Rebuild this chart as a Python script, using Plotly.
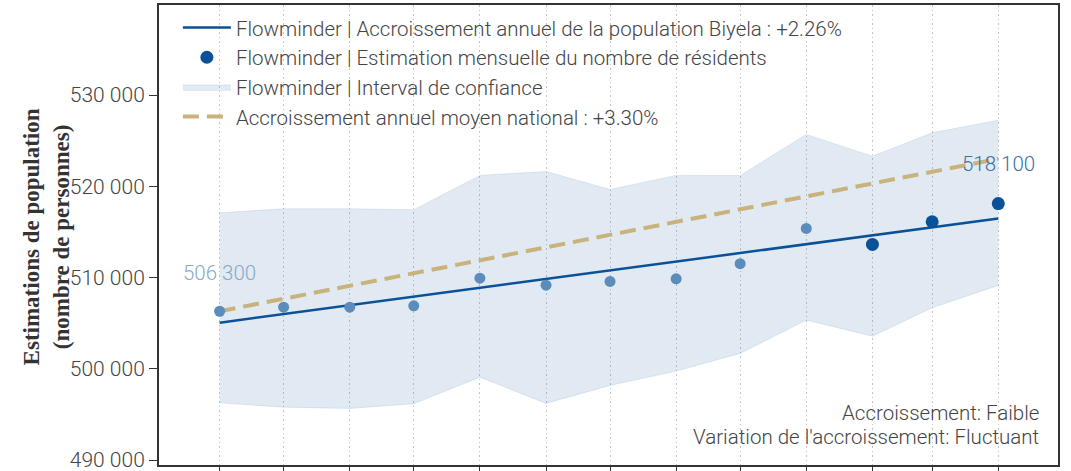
import plotly.graph_objects as go

# monthly estimates, Biyela
months = ["2022-04-01", "2022-05-01", "2022-06-01", "2022-07-01", "2022-08-01",
          "2022-09-01", "2022-10-01", "2022-11-01", "2022-12-01", "2023-01-01",
          "2023-02-01", "2023-03-01", "2023-04-01"]
estimates = [506300, 506750, 506750, 506900, 509930, 509160, 509570,
             509860, 511510, 515380, 513620, 516110, 518100]
ci_upper = [517100, 517530, 517530, 517430, 521190, 521620, 519650,
            521190, 521180, 525680, 523300, 525860, 527240]
ci_lower = [496270, 495790, 495650, 496160, 499080, 496200, 498170,
            499740, 501680, 505330, 503570, 506680, 509130]
n_recent = 3  # last months drawn darker

trend_start = 505050
local_growth = 0.0226
national_growth = 0.0330

DARK = "#0b5197"
LIGHT = "#5b8cbb"
TAN = "#c9b27c"
FONT = "Roboto"


def fmt(v):
    return f"{v:,}".replace(",", " ")


ends = [months[0], months[-1]]
trend = [trend_start, trend_start * (1 + local_growth)]
national = [estimates[0], estimates[0] * (1 + national_growth)]

fig = go.Figure()

fig.add_trace(go.Scatter(
    x=months, y=ci_lower, mode="lines",
    line=dict(color="rgba(11,79,149,0.10)", width=1),
    showlegend=False, hoverinfo="skip",
))
fig.add_trace(go.Scatter(
    x=months, y=ci_upper, mode="lines", fill="tonexty",
    fillcolor="rgba(11,79,149,0.12)",
    line=dict(color="rgba(11,79,149,0.10)", width=1),
    name="Flowminder | Interval de confiance", legendrank=3,
))
fig.add_trace(go.Scatter(
    x=ends, y=trend, mode="lines", line=dict(color=DARK, width=2.5),
    name=f"Flowminder | Accroissement annuel de la population Biyela : +{local_growth*100:.2f}%",
    legendrank=1,
))
fig.add_trace(go.Scatter(
    x=ends, y=national, mode="lines", line=dict(color=TAN, width=4, dash="16px,8px"),
    name=f"Accroissement annuel moyen national : +{national_growth*100:.2f}%",
    legendrank=4,
))
fig.add_trace(go.Scatter(
    x=months[:-n_recent], y=estimates[:-n_recent], mode="markers",
    marker=dict(color=LIGHT, size=11), showlegend=False,
))
fig.add_trace(go.Scatter(
    x=months[-n_recent:], y=estimates[-n_recent:], mode="markers",
    marker=dict(color=DARK, size=13),
    name="Flowminder | Estimation mensuelle du nombre de résidents", legendrank=2,
))

fig.add_annotation(x=months[0], y=estimates[0], text=fmt(estimates[0]), showarrow=False,
                   yshift=38, font=dict(family=FONT, size=20.5, color="#86a9c9", weight=300))
fig.add_annotation(x=months[-1], y=estimates[-1], text=fmt(estimates[-1]), showarrow=False,
                   yshift=40, font=dict(family=FONT, size=20.5, color="#3b70a3", weight=300))
for txt, yp in [("Accroissement: Faible", 0.113),
                ("Variation de l'accroissement: Fluctuant", 0.061)]:
    fig.add_annotation(
        xref="paper", yref="paper", x=0.981, y=yp, xanchor="right", yanchor="middle",
        showarrow=False, text=txt,
        font=dict(family=FONT, size=20.5, color="#444", weight=300),
    )
fig.add_annotation(
    xref="paper", yref="paper", x=-0.1251, y=0.496, xanchor="center", yanchor="middle",
    textangle=-90, showarrow=False,
    text="Estimations de population<br>(nombre de personnes)",
    font=dict(family="Liberation Serif", size=23, color="#333", weight="bold"),
)

fig.update_layout(
    width=1071, height=471,
    margin=dict(l=159, r=13, t=5, b=6),
    plot_bgcolor="white", paper_bgcolor="white",
    separators=". ",
    font=dict(family=FONT, size=20.5, color="#444", weight=300),
    legend=dict(x=0.021, y=0.994, xanchor="left", yanchor="top",
                bgcolor="rgba(0,0,0,0)", traceorder="normal", itemwidth=48,
                font=dict(family=FONT, size=20.5, color="#444", weight=300)),
    showlegend=True,
)
fig.update_xaxes(
    range=["2022-03-03 14:00", "2023-04-28 23:36"],
    tick0="2022-04-01", dtick="M1", automargin=False,
    showgrid=True, griddash="1.5px,3px", gridcolor="#c4c4c4", gridwidth=1.2,
    showticklabels=False, ticks="outside", ticklen=8, tickcolor="#333",
    showline=True, mirror=True, linecolor="#333", linewidth=2, zeroline=False,
)
fig.update_yaxes(
    range=[489452, 539863], dtick=10000, tickformat=",d",
    showgrid=False, zeroline=False, automargin=False, ticklabeloverflow="allow",
    ticks="outside", ticklen=8, tickcolor="#333",
    tickfont=dict(family=FONT, size=21, color="#444", weight=300),
    showline=True, mirror=True, linecolor="#333", linewidth=2,
)

fig.write_html("out.html", config={"displayModeBar": False},
               post_script="document.body.style.margin='0';")
